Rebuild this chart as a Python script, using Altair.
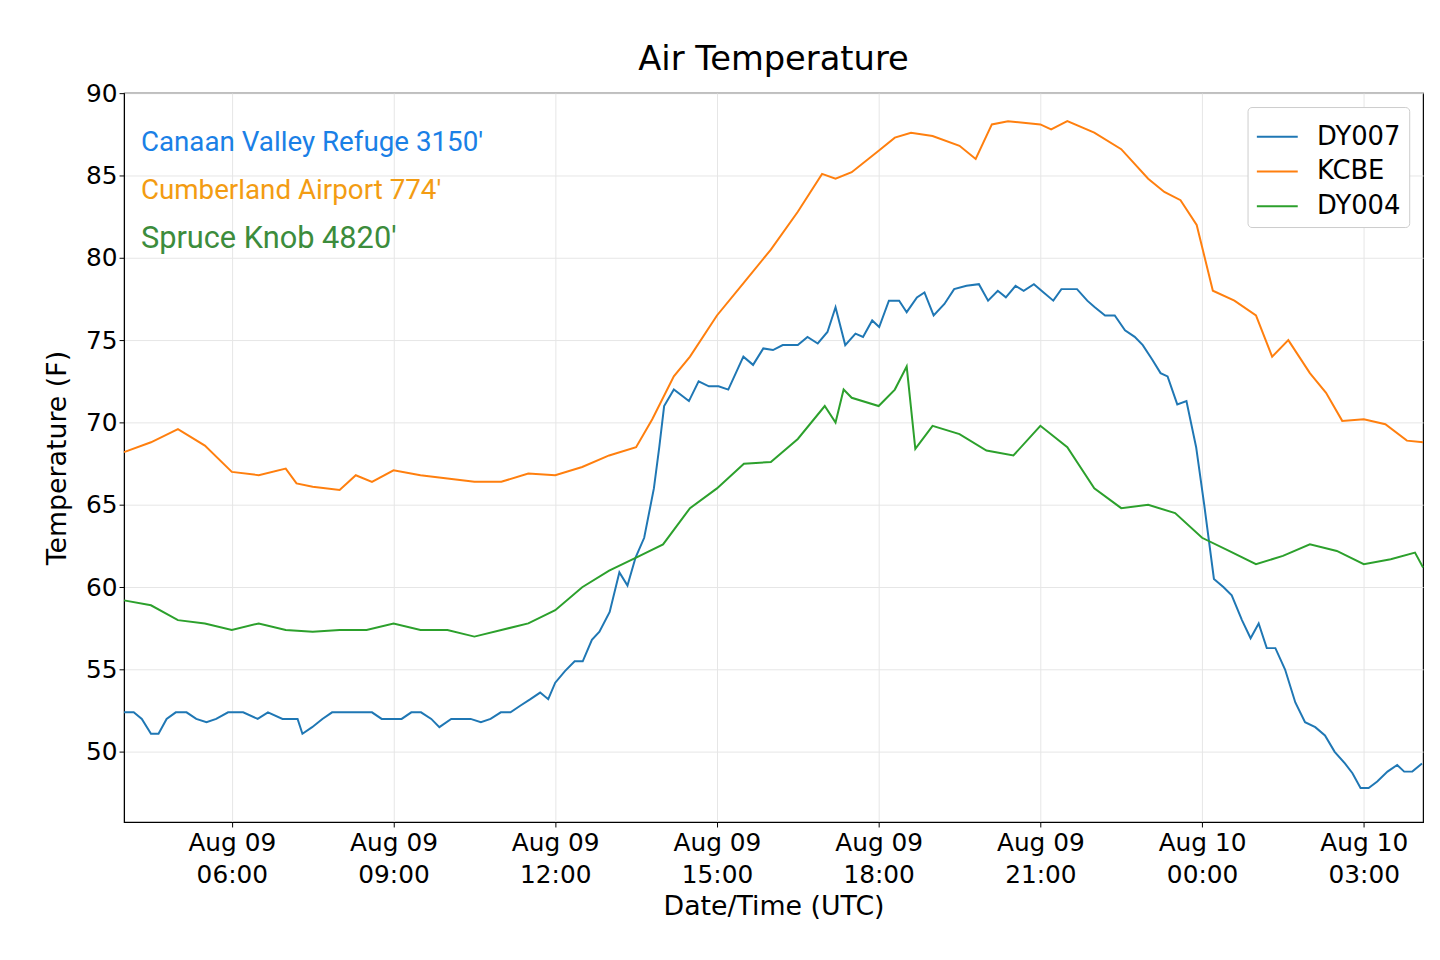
import altair as alt
import pandas as pd

# hours after Aug 09 04:00 UTC
dy007_h = [0, .18, .33, .50, .64, .79, .96, 1.16, 1.34, 1.53, 1.71, 1.93, 2.21, 2.48, 2.67, 2.94, 3.22, 3.31,
           3.49, 3.68, 3.86, 4.23, 4.60, 4.78, 5.15, 5.33, 5.51, 5.70, 5.85, 6.07, 6.43, 6.62, 6.80, 6.99, 7.17,
           7.35, 7.54, 7.72, 7.87, 8.00, 8.18, 8.36, 8.51, 8.68, 8.82, 9.01, 9.19, 9.34, 9.49, 9.65, 9.83, 9.93,
           10.02, 10.20, 10.48, 10.66, 10.85, 11.03, 11.21, 11.49, 11.67, 11.86, 12.04, 12.22, 12.50, 12.68,
           12.87, 13.05, 13.20, 13.38, 13.57, 13.71, 13.88, 14.01, 14.19, 14.38, 14.52, 14.71, 14.85, 15.02,
           15.22, 15.40, 15.63, 15.86, 16.03, 16.21, 16.36, 16.54, 16.69, 16.88, 17.06, 17.24, 17.39, 17.68,
           17.87, 18.01, 18.20, 18.38, 18.57, 18.75, 18.90, 19.08, 19.23, 19.36, 19.54, 19.71, 19.89, 20.04,
           20.22, 20.40, 20.55, 20.74, 20.90, 21.05, 21.20, 21.36, 21.54, 21.73, 21.91, 22.10, 22.28, 22.46,
           22.65, 22.79, 22.94, 23.09, 23.25, 23.44, 23.62, 23.75, 23.90, 24.08]
dy007_t = [52.4, 52.4, 52.0, 51.1, 51.1, 52.0, 52.4, 52.4, 52.0, 51.8, 52.0, 52.4, 52.4, 52.0, 52.4, 52.0, 52.0, 51.1,
           51.5, 52.0, 52.4, 52.4, 52.4, 52.0, 52.0, 52.4, 52.4, 52.0, 51.5, 52.0, 52.0, 51.8, 52.0, 52.4, 52.4,
           52.8, 53.2, 53.6, 53.2, 54.2, 54.9, 55.5, 55.5, 56.8, 57.3, 58.5, 60.9, 60.1, 61.8, 63.0, 66.0, 68.5,
           71.0, 72.0, 71.3, 72.5, 72.2, 72.2, 72.0, 74.0, 73.5, 74.5, 74.4, 74.7, 74.7, 75.2,
           74.8, 75.5, 77.0, 74.7, 75.4, 75.2, 76.2, 75.8, 77.4, 77.4, 76.7, 77.6, 77.9, 76.5,
           77.2, 78.1, 78.3, 78.4, 77.4, 78.0, 77.6, 78.3, 78.0, 78.4, 77.9, 77.4, 78.1, 78.1,
           77.4, 77.0, 76.5, 76.5, 75.6, 75.2, 74.7, 73.8, 73.0, 72.8, 71.1, 71.3, 68.5, 65.0,
           60.5, 60.0, 59.5, 58.0, 56.9, 57.8, 56.3, 56.3, 55.0, 53.0, 51.8, 51.5, 51.0, 50.0,
           49.3, 48.7, 47.8, 47.8, 48.2, 48.8, 49.2, 48.8, 48.8, 49.3]

kcbe_h = [0, .5, 1.0, 1.5, 2.0, 2.5, 3.0, 3.2, 3.5, 4.0, 4.3, 4.6, 5.0, 5.5, 6.0, 6.5, 7.0, 7.5, 8.0, 8.5, 9.0,
          9.5, 9.8, 10.2, 10.5, 11.0, 11.5, 12.0, 12.5, 12.95, 13.2, 13.5, 14.0, 14.3, 14.6, 15.0, 15.5, 15.8,
          16.1, 16.4, 17.0, 17.2, 17.5, 18.0, 18.5, 19.0, 19.3, 19.6, 19.9, 20.2, 20.6, 21.0, 21.3, 21.6, 22.0,
          22.3, 22.6, 23.0, 23.4, 23.8, 24.1]
kcbe_t = [68.2, 68.8, 69.6, 68.6, 67.0, 66.8, 67.2, 66.3, 66.1, 65.9, 66.8, 66.4, 67.1, 66.8, 66.6, 66.4, 66.4,
          66.9, 66.8, 67.3, 68.0, 68.5, 70.2, 72.8, 74.0, 76.5, 78.5, 80.5, 82.8, 85.1, 84.8, 85.2, 86.5, 87.3,
          87.6, 87.4, 86.8, 86.0, 88.1, 88.3, 88.1, 87.8, 88.3, 87.6, 86.6, 84.8, 84.0, 83.5, 82.0, 78.0, 77.4,
          76.5, 74.0, 75.0, 73.0, 71.8, 70.1, 70.2, 69.9, 68.9, 68.8]

dy004_h = [0, .5, 1.0, 1.5, 2.0, 2.5, 3.0, 3.5, 4.0, 4.5, 5.0, 5.5, 6.0, 6.5, 7.0, 7.5, 8.0, 8.5, 9.0, 9.5,
           10.0, 10.5, 11.0, 11.5, 12.0, 12.5, 13.0, 13.2, 13.35, 13.5, 14.0, 14.3, 14.52, 14.68, 15.0, 15.5,
           16.0, 16.5, 17.0, 17.5, 18.0, 18.5, 19.0, 19.5, 20.0, 20.5, 21.0, 21.5, 22.0, 22.5, 23.0, 23.5,
           23.95, 24.1]
dy004_t = [59.2, 58.9, 58.0, 57.8, 57.4, 57.8, 57.4, 57.3, 57.4, 57.4, 57.8, 57.4, 57.4, 57.0, 57.4, 57.8,
           58.6, 60.0, 61.0, 61.8, 62.6, 64.8, 66.0, 67.5, 67.6, 69.0, 71.0, 70.0, 72.0, 71.5, 71.0, 72.0,
           73.4, 68.4, 69.8, 69.3, 68.3, 68.0, 69.8, 68.5, 66.0, 64.8, 65.0, 64.5, 63.0, 62.2, 61.4, 61.9,
           62.6, 62.2, 61.4, 61.7, 62.1, 61.2]

labels = ["Canaan Valley Refuge 3150'", "Cumberland Airport 774'", "Spruce Knob 4820'"]
label_colors = ["#1a80e6", "#f39c12", "#3c8c3c"]
label_sizes = [28, 28, 31]

df = pd.concat([
    pd.DataFrame({"h": dy007_h, "t": dy007_t, "station": "DY007"}),
    pd.DataFrame({"h": kcbe_h, "t": kcbe_t, "station": "KCBE"}),
    pd.DataFrame({"h": dy004_h, "t": dy004_t, "station": "DY004"}),
])
order = ["DY007", "KCBE", "DY004"]
font = "DejaVu Sans"

label_expr = ("[(datum.value + 4 >= 24 ? 'Aug 10' : 'Aug 09'), "
              "(((datum.value + 4) % 24) < 10 ? '0' : '') + ((datum.value + 4) % 24) + ':00']")

lines = alt.Chart(df).mark_line(strokeWidth=2).encode(
    x=alt.X("h:Q", scale=alt.Scale(domain=[0, 24.1], nice=False, zero=False),
            axis=alt.Axis(values=[2, 5, 8, 11, 14, 17, 20, 23], labelExpr=label_expr,
                          title="Date/Time (UTC)", labelFontSize=25, titleFontSize=27, titleFontWeight="normal",
                          labelColor="black", titleColor="black", tickColor="black",
                          domainColor="black", gridColor="#e6e6e6", labelPadding=4, titlePadding=6,
                          labelLineHeight=32)),
    y=alt.Y("t:Q", scale=alt.Scale(domain=[45.74, 90], nice=False, zero=False),
            axis=alt.Axis(values=[50, 55, 60, 65, 70, 75, 80, 85, 90], title="Temperature (F)",
                          labelFontSize=25, titleFontSize=27, titleFontWeight="normal", labelColor="black",
                          titleColor="black", tickColor="black", domainColor="black", gridColor="#e6e6e6",
                          titlePadding=14)),
    color=alt.Color("station:N", sort=order,
                    scale=alt.Scale(domain=order, range=["#1f77b4", "#ff7f0e", "#2ca02c"]),
                    legend=alt.Legend(title=None, orient="top-right", labelFontSize=26, symbolType="stroke",
                                      symbolSize=1700, symbolStrokeWidth=2, strokeColor="#cccccc",
                                      fillColor="white", padding=8, cornerRadius=4, rowPadding=0,
                                      labelColor="black", offset=14, labelOffset=18)),
)

ann = pd.DataFrame({"label": labels, "c": label_colors, "i": [0, 1, 2], "s": label_sizes})
texts = alt.Chart(ann).mark_text(align="left", baseline="middle", font="Roboto").encode(
    x=alt.value(17),
    y=alt.Y("i:Q", scale=alt.Scale(domain=[0, 2], range=[50, 147]), axis=None),
    text="label:N",
    color=alt.Color("c:N", scale=None),
    size=alt.Size("s:Q", scale=None),
)

chart = alt.layer(lines, texts).resolve_scale(y="independent").properties(
    width=1310, height=735,
    padding={"left": 36, "top": 32, "right": 5, "bottom": 5},
    title=alt.Title("Air Temperature", fontSize=34, font=font, fontWeight="normal", color="black"),
).configure(font=font).configure_view(stroke="black", strokeWidth=1.2)

chart.save("out.html", embed_options={"renderer": "svg", "actions": False})
